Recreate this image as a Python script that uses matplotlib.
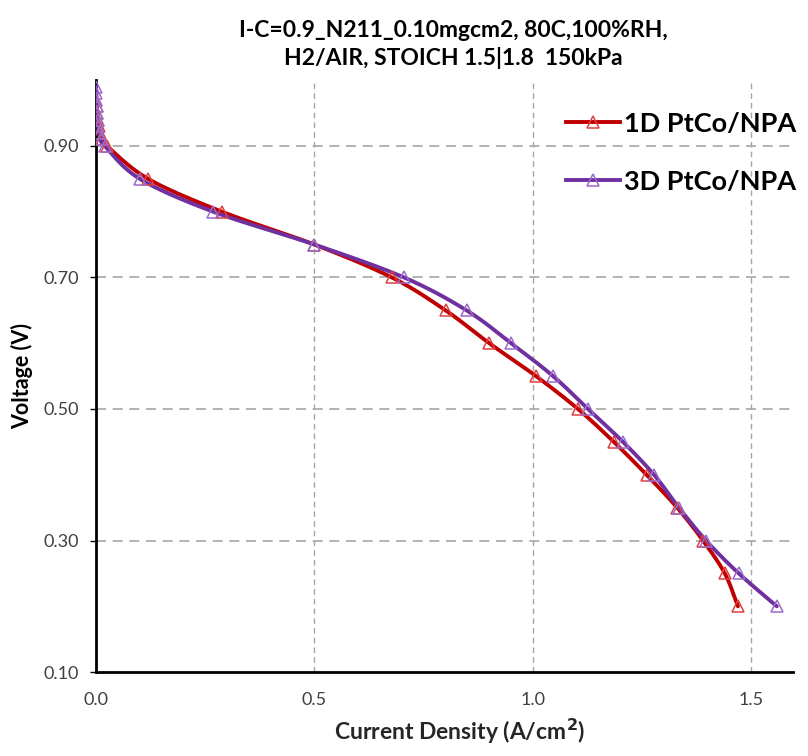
import numpy as np
import matplotlib
matplotlib.use("Agg")
import matplotlib.pyplot as plt
from matplotlib.lines import Line2D

plt.rcParams['font.family'] = ['Lato', 'DejaVu Sans']

title = "I-C=0.9_N211_0.10mgcm2, 80C,100%RH,\nH2/AIR, STOICH 1.5|1.8  150kPa"
series_names = ["1D PtCo/NPA", "3D PtCo/NPA"]

v_1d = [0.97, 0.96, 0.95, 0.94, 0.93, 0.92, 0.91, 0.90, 0.85, 0.80, 0.75, 0.70,
        0.65, 0.60, 0.55, 0.50, 0.45, 0.40, 0.35, 0.30, 0.25, 0.20]
i_1d = [0.001, 0.002, 0.003, 0.004, 0.006, 0.009, 0.014, 0.025, 0.119, 0.288, 0.500, 0.677,
        0.800, 0.900, 1.007, 1.103, 1.185, 1.260, 1.330, 1.389, 1.439, 1.469]

v_3d = [0.99, 0.98, 0.97, 0.96, 0.95, 0.94, 0.93, 0.92, 0.91, 0.90, 0.85, 0.80, 0.75, 0.70,
        0.65, 0.60, 0.55, 0.50, 0.45, 0.40, 0.35, 0.30, 0.25, 0.20]
i_3d = [0.000, 0.001, 0.001, 0.002, 0.003, 0.004, 0.005, 0.007, 0.011, 0.020, 0.100, 0.268, 0.500, 0.705,
        0.848, 0.950, 1.046, 1.126, 1.206, 1.277, 1.334, 1.396, 1.471, 1.558]

x_ticks = [0.0, 0.5, 1.0, 1.5]
y_ticks = [0.10, 0.30, 0.50, 0.70, 0.90]

line_colors = ["#C00000", "#7030A0"]
marker_colors = ["#E04040", "#9B6BCB"]


def smooth(x, y, n=20):
    # Catmull-Rom spline through the points (for the smoothed line shape)
    x = np.asarray(x, float); y = np.asarray(y, float)
    px = np.concatenate([[2 * x[0] - x[1]], x, [2 * x[-1] - x[-2]]])
    py = np.concatenate([[2 * y[0] - y[1]], y, [2 * y[-1] - y[-2]]])
    ox, oy = [], []
    t = np.linspace(0, 1, n, endpoint=False)
    for k in range(1, len(px) - 2):
        for arr, out in ((px, ox), (py, oy)):
            p0, p1, p2, p3 = arr[k - 1], arr[k], arr[k + 1], arr[k + 2]
            out.extend(0.5 * ((2 * p1) + (-p0 + p2) * t + (2 * p0 - 5 * p1 + 4 * p2 - p3) * t ** 2
                              + (-p0 + 3 * p1 - 3 * p2 + p3) * t ** 3))
    ox.append(x[-1]); oy.append(y[-1])
    return np.array(ox), np.array(oy)


fig = plt.figure(figsize=(8.08, 7.56), dpi=100)
ax = fig.add_axes([0.1188, 0.111, 0.8626, 0.783])

for xs, ys, lc, mc in ((i_1d, v_1d, line_colors[0], marker_colors[0]),
                       (i_3d, v_3d, line_colors[1], marker_colors[1])):
    sx, sy = smooth(xs, ys)
    ax.plot(sx, sy, color=lc, lw=2.8, zorder=3, solid_capstyle='round')
    ax.plot(xs, ys, ls='none', marker='^', ms=9, mfc='none', mec=mc, mew=1.1, zorder=4)

ax.set_xlim(0, 1.595)
ax.set_ylim(0.10, 1.00)
ax.set_xticks(x_ticks)
ax.set_xticklabels([f"{t:.1f}" for t in x_ticks])
ax.set_yticks(y_ticks)
ax.set_yticklabels([f"{t:.2f}" for t in y_ticks])
ax.tick_params(axis='x', length=0, pad=14, labelsize=13, labelcolor='#404040')
ax.tick_params(axis='y', length=4, width=1, direction='out', pad=8, labelsize=13, labelcolor='#404040')

for yv in [0.30, 0.50, 0.70, 0.90]:
    ax.axhline(yv, color='#A6A6A6', lw=1.2, ls=(0, (6, 4)), zorder=1)
for xv in [0.5, 1.0, 1.5]:
    ax.axvline(xv, color='#A6A6A6', lw=1.0, ls=(0, (4, 3)), zorder=1)

for s in ['top', 'right']:
    ax.spines[s].set_visible(False)
for s in ['left', 'bottom']:
    ax.spines[s].set_linewidth(2.0)
    ax.spines[s].set_color('black')

ax.set_xlabel("Current Density (A/cm$^\\mathbf{2}$)", fontsize=16.5, fontweight='bold', color='#262626')
ax.xaxis.set_label_coords(0.522, -0.075)
ax.set_ylabel("Voltage (V)", fontsize=15.5, fontweight='bold', color='black', labelpad=8)

fig.text(0.561, 0.941, title, ha='center', va='center', fontsize=16.5, fontweight='bold',
         linespacing=1.3, color='black')

handles = [Line2D([], [], color=line_colors[i], lw=2.8, marker='^', ms=9, mfc='none',
                  mec=marker_colors[i], mew=1.1) for i in range(2)]
leg = ax.legend(handles, series_names, loc='upper right', bbox_to_anchor=(1.02, 0.965), frameon=False,
                prop={'size': 19.5, 'weight': 'bold'}, labelspacing=1.25, handlelength=2.0,
                handletextpad=0.15, borderaxespad=0)

fig.savefig("out.png", dpi=100, facecolor='white')
